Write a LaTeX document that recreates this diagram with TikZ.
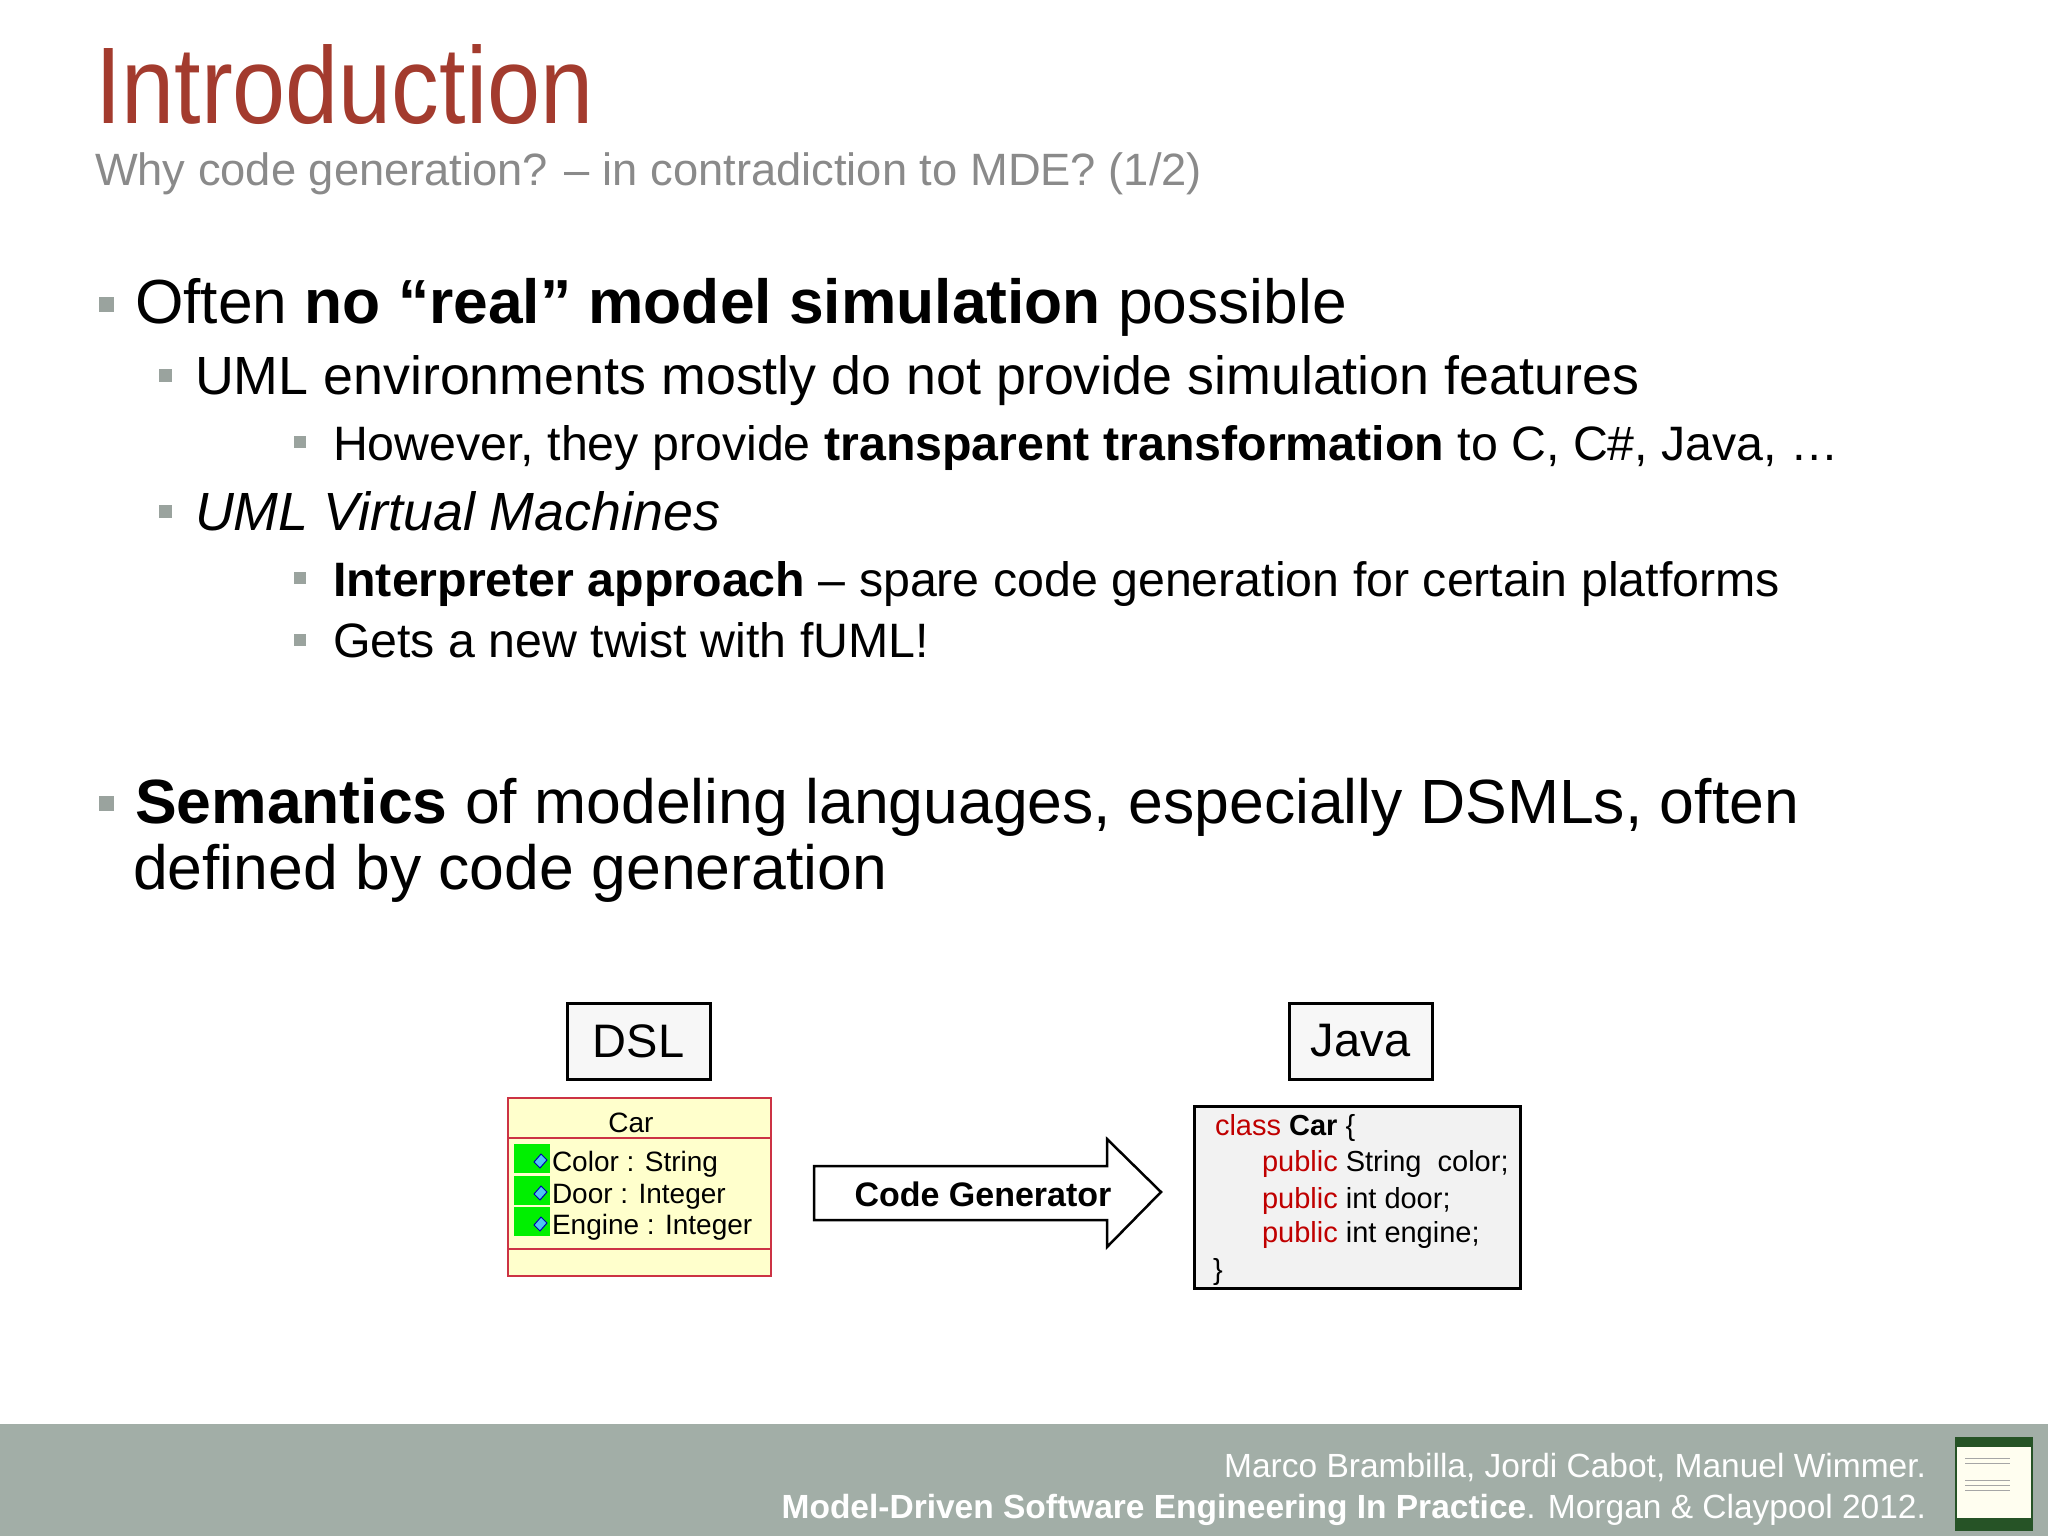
\documentclass[tikz,border=0pt]{standalone}
\usepackage{fontspec}
\setmainfont{Liberation Sans}
\definecolor{titred}{HTML}{A33B2E}
\definecolor{subgray}{HTML}{8A8A8A}
\definecolor{bulgray}{HTML}{9AA39E}
\definecolor{footbg}{HTML}{A2AEA7}
\definecolor{umlfill}{HTML}{FFFFCC}
\definecolor{umlred}{HTML}{CC3344}
\definecolor{kw}{HTML}{C00000}
\newcommand{\fsz}[1]{\fontsize{#1pt}{#1pt}\selectfont}
\begin{document}
\begin{tikzpicture}[x=1pt,y=-1pt,
  txt/.style={anchor=base west,inner sep=0pt,outer sep=0pt},
  bul/.style={fill=bulgray,draw=none,minimum size=#1,inner sep=0pt},
  lbox/.style={draw=black,line width=3pt,fill=gray!6,minimum width=143pt,minimum height=76pt,font=\fsz{47}},
  code/.style={txt,font=\fsz{29}}]
\useasboundingbox (0,0) rectangle (2048,1536);
\fill[white] (0,0) rectangle (2048,1536);
% title
\node[txt,text=titred] (title) at (95,124) {\scalebox{0.875}[1]{\fsz{109}Introduction}};
\node[txt,text=subgray] (sub) at (95,185) {\fsz{45.3}Why code generation? – in contradiction to MDE? (1/2)};
% bullets
\node[bul=15pt] (b1) at (106,304) {};
\node[txt] (t1) at (135,323) {\fsz{62.3}Often \textbf{no “real” model simulation} possible};
\node[bul=13pt] (b2) at (165,375) {};
\node[txt] (t2) at (195,394) {\fsz{53.8}UML environments mostly do not provide simulation features};
\node[bul=12pt] (b3) at (300,442) {};
\node[txt] (t3) at (333,460) {\fsz{48.3}However, they provide \textbf{transparent transformation} to C, C\#, Java, …};
\node[bul=13pt] (b4) at (165,511) {};
\node[txt] (t4) at (195,530) {\fsz{53.8}\itshape UML Virtual Machines};
\node[bul=12pt] (b5) at (300,578) {};
\node[txt] (t5) at (333,596) {\fsz{48.3}\textbf{Interpreter approach} – spare code generation for certain platforms};
\node[bul=12pt] (b6) at (300,640) {};
\node[txt] (t6) at (333,657) {\fsz{48.3}Gets a new twist with fUML!};
\node[bul=15pt] (b7) at (106,803) {};
\node[txt] (t7) at (135,823) {\fsz{62.5}\textbf{Semantics} of modeling languages, especially DSMLs, often};
\node[txt] (t8) at (133,889) {\fsz{62.5}defined by code generation};
% DSL / Java labels
\node[lbox] (dsl) at (638.5,1041) {DSL};
\node[lbox] (java) at (1360.5,1041) {Java};
% UML class
\draw[umlred,fill=umlfill,line width=1.2pt] (508,1098) rectangle (771,1276);
\draw[umlred,line width=1.2pt] (508,1138) -- (771,1138) (508,1249) -- (771,1249);
\node[txt,anchor=base,font=\fsz{28}] (car) at (631,1132) {Car};
\foreach \yy/\tt [count=\i] in {1171/Color : String,1203/Door : Integer,1234/Engine : Integer}{
  \fill[green!85!black!40!green] (514,\yy-27) rectangle (550,\yy+2);
  \fill[cyan!70!white,draw=blue!70!black,line width=1pt] (541,\yy-17) -- (547,\yy-11) -- (540,\yy-3) -- (534,\yy-9) -- cycle;
  \node[txt,font=\fsz{28}] (a\i) at (552,\yy) {\tt};
}
% arrow
\draw[line width=2.5pt,fill=white,line join=miter] (814,1166) -- (1107,1166) -- (1107,1139) -- (1161,1192) -- (1107,1247) -- (1107,1220) -- (814,1220) -- cycle;
\node[anchor=base,inner sep=0pt,font=\fsz{34}\bfseries] (cg) at (983,1206) {Code Generator};
% java code
\draw[line width=3pt,fill=gray!10] (1194,1106) rectangle (1520,1288);
\node[code] (c1) at (1215,1135) {\textcolor{kw}{class} \textbf{Car} \{};
\node[code] (c2) at (1262,1171) {\textcolor{kw}{public} String\ \ color;};
\node[code] (c3) at (1262,1208) {\textcolor{kw}{public} int door;};
\node[code] (c4) at (1262,1242) {\textcolor{kw}{public} int engine;};
\node[code] (c5) at (1213,1279) {\}};
% footer
\fill[footbg] (0,1424) rectangle (2048,1536);
\node[txt,anchor=base east,text=white,font=\fsz{33.5}] (f1) at (1926,1477) {Marco Brambilla, Jordi Cabot, Manuel Wimmer.};
\node[txt,anchor=base east,text=white,font=\fsz{33.5}] (f2) at (1926,1518) {\textbf{Model-Driven Software Engineering In Practice}. Morgan \& Claypool 2012.};
\fill[green!25!black!70!gray] (1955,1437) rectangle (2033,1531);
\fill[yellow!6] (1957,1447) rectangle (2031,1518);
\foreach \yy in {1458,1463,1480,1485,1490}{\draw[gray!70,line width=1pt] (1965,\yy) -- (2010,\yy);}
\end{tikzpicture}
\end{document}
